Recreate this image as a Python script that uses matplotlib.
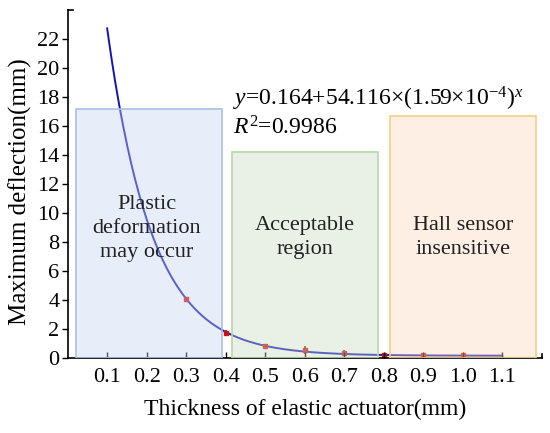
import numpy as np
import matplotlib.pyplot as plt
from matplotlib.patches import Rectangle

plt.rcParams['font.family'] = ['Liberation Serif', 'DejaVu Serif']
plt.rcParams['mathtext.fontset'] = 'custom'
plt.rcParams['mathtext.rm'] = 'Liberation Serif'
plt.rcParams['mathtext.it'] = 'Liberation Serif:italic'

# measured points
thickness = [0.3, 0.4, 0.5, 0.6, 0.7, 0.8, 0.9, 1.0]
deflection = [4.06, 1.75, 0.85, 0.55, 0.36, 0.22, 0.18, 0.20]
deflection_err = [0.15, 0.2, 0.1, 0.3, 0.2, 0.15, 0.08, 0.15]

# fit parameters
a, b, c = 0.164, 54.116, 1.59e-4
fit_range = (0.1, 1.1)

# shaded regions: (x0, x1, top, fill, edge, label, text x, text y)
regions = [
    (0.02, 0.39, 17.2, '#c4d4f2', '#a8c0e6', 'Plastic\ndeformation\nmay occur', 0.2, 8.95),
    (0.415, 0.785, 14.2, '#c8dcc4', '#b8d8a8', 'Acceptable\nregion', 0.6, 8.3),
    (0.815, 1.185, 16.7, '#fcd8bc', '#f2cf80', 'Hall sensor\ninsensitive', 1.0, 8.3),
]

fig, ax = plt.subplots(figsize=(5.5, 4.33), dpi=100)
fig.subplots_adjust(left=0.123, right=0.985, top=0.977, bottom=0.173)

xs = np.linspace(fit_range[0], fit_range[1], 300)
ax.plot(xs, a + b * c ** xs, color='#1414b4', lw=1.4, zorder=1)
ax.errorbar(thickness, deflection, yerr=deflection_err, fmt='s', ms=3.5,
            color='#d01010', ecolor='#333333', elinewidth=1.2, capsize=0, zorder=1)

for x0, x1, top, fc, ec, label, tx, ty in regions:
    ax.add_patch(Rectangle((x0, 0), x1 - x0, top, facecolor=fc, edgecolor='none',
                           alpha=0.4, zorder=2))
    ax.add_patch(Rectangle((x0, 0), x1 - x0, top, facecolor='none', edgecolor=ec,
                           lw=1.2, zorder=3))
    ax.text(tx, ty, label, ha='center', va='center', fontsize=16,
            linespacing=1.35, color='#222222', zorder=4)

ax.text(0.418, 17.9, r'$\mathit{y}$=0.164+54.116×(1.59×10$^{-4}$)$^{\mathit{x}}$',
        fontsize=17, ha='left', va='center')
ax.text(0.418, 15.9, r'$\mathit{R}^{2}$=0.9986', fontsize=17, ha='left', va='center')

ax.set_xlim(0, 1.2)
ax.set_ylim(0, 24)
ax.set_xticks(np.arange(0.1, 1.15, 0.1))
ax.set_xticklabels([f'{v:.1f}' for v in np.arange(0.1, 1.15, 0.1)])
ax.set_yticks(range(0, 23, 2))
ax.tick_params(axis='x', direction='in', length=4, width=1, labelsize=16, pad=7)
ax.tick_params(axis='y', direction='out', length=4, width=1, labelsize=16, pad=2)
for s in ['top', 'right']:
    ax.spines[s].set_visible(False)
for s in ['left', 'bottom']:
    ax.spines[s].set_linewidth(1.2)

# end caps of the axes
ax.plot([0, 0.012], [1, 1], transform=ax.transAxes, color='black', lw=1.2, clip_on=False)
ax.plot([1, 1], [0, 0.012], transform=ax.transAxes, color='black', lw=1.2, clip_on=False)

ax.set_xlabel('Thickness of elastic actuator(mm)', fontsize=17, labelpad=9)
ax.set_ylabel('Maximum deflection(mm)', fontsize=18)
ax.yaxis.set_label_coords(-0.075, 0.477)

fig.savefig('out.png', dpi=100)
